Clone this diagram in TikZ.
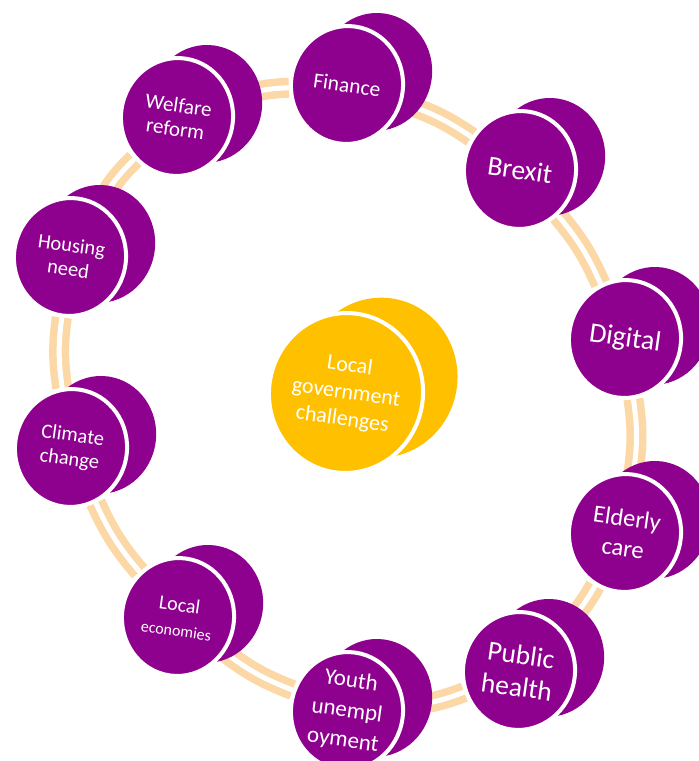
\documentclass[tikz,border=0pt]{standalone}
\usepackage{fontspec}
\setmainfont{Carlito}
\usetikzlibrary{positioning, shapes.geometric}

\definecolor{plum}{HTML}{8E008E}
\definecolor{gold}{HTML}{FFC000}
\definecolor{peach}{HTML}{FBD8A6}

\pgfdeclarelayer{links}
\pgfdeclarelayer{backs}
\pgfsetlayers{links,backs,main}

\tikzset{
    front/.style={ellipse, fill=plum, draw=white, line width=4pt,
        minimum width=112pt, minimum height=118pt, inner sep=0pt,
        text=white, align=center, rotate=-8},
    backdisc/.style={ellipse, fill=plum, minimum width=112pt,
        minimum height=118pt, rotate=-8, shift={(27,-17)}},
    link/.style={draw=peach, line width=7.5pt, double=white,
        double distance=5pt},
    fs/.style 2 args={font=\fontsize{#1}{#2}\selectfont},
}

\begin{document}
\begin{tikzpicture}[x=1pt, y=-1pt]
    \useasboundingbox (0,0) rectangle (699,761);

    % ring of challenges
    \node[front, fs={21.5}{24}] (fin) at (347,85) {Finance};
    \node[front, fs={27.5}{30}] (brx) at (520,170) {Brexit};
    \node[front, fs={28}{30}] (dig) at (625,339) {Digital};
    \node[front, fs={24.5}{30}] (eld) at (625,533) {Elderly\\care};
    \node[front, fs={27.5}{32}] (pub) at (519,671) {Public\\health};
    \node[front, fs={23}{30}] (yth) at (347,711) {Youth\\unempl\\oyment};
    \node[front, fs={20}{25}] (leco) at (178,617)
        {Local\\{\fontsize{16}{18}\selectfont economies}};
    \node[front, fs={20.5}{24}] (clim) at (71,448) {Climate\\change};
    \node[front, fs={20.5}{24}] (hous) at (70,257) {Housing\\need};
    \node[front, fs={21}{24}] (welf) at (177,117) {Welfare\\reform};

    % centre
    \node[front, fill=gold, minimum width=154pt, minimum height=160pt,
        fs={22}{27}] (lgc) at (346,393) {Local\\government\\challenges};

    \begin{pgfonlayer}{backs}
        \node[backdisc] (finB) at (fin) {};
        \node[backdisc] (brxB) at (brx) {};
        \node[backdisc] (digB) at (dig) {};
        \node[backdisc] (eldB) at (eld) {};
        \node[backdisc] (pubB) at (pub) {};
        \node[backdisc] (ythB) at (yth) {};
        \node[backdisc] (lecoB) at (leco) {};
        \node[backdisc] (climB) at (clim) {};
        \node[backdisc] (housB) at (hous) {};
        \node[backdisc] (welfB) at (welf) {};
        \node[backdisc, fill=gold, minimum width=154pt,
            minimum height=160pt, shift={(5,-3)}] (lgcB) at (lgc) {};
    \end{pgfonlayer}

    \begin{pgfonlayer}{links}
        \draw[link] (fin) to[bend left=8] (brx);
        \draw[link] (brx) to[bend left=8] (dig);
        \draw[link] (dig) to[bend left=8] (eld);
        \draw[link] (eld) to[bend left=8] (pub);
        \draw[link] (pub) to[bend left=8] (yth);
        \draw[link] (yth) to[bend left=8] (leco);
        \draw[link] (leco) to[bend left=8] (clim);
        \draw[link] (clim) to[bend left=8] (hous);
        \draw[link] (hous) to[bend left=8] (welf);
        \draw[link] (welf) to[bend left=8] (fin);
    \end{pgfonlayer}
\end{tikzpicture}
\end{document}
